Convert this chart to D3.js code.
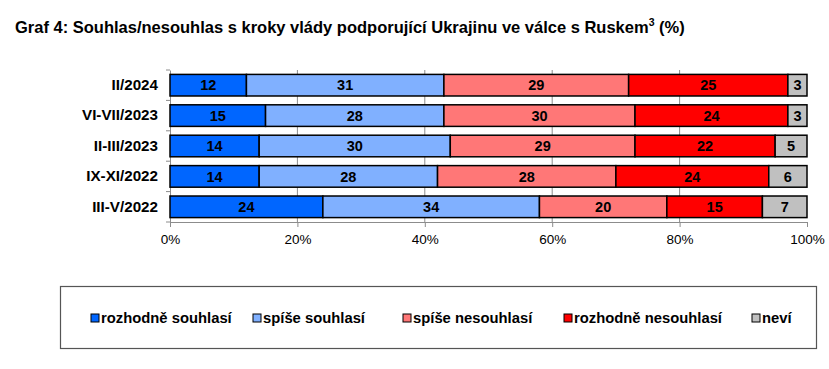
<!DOCTYPE html>
<html>
<head>
<meta charset="utf-8">
<script src="https://cdn.jsdelivr.net/npm/d3@7"></script>
<style>
  body { margin: 0; background: #fff; }
  svg { font-family: "Liberation Sans", Arial, sans-serif; }
</style>
</head>
<body>
<div id="chart"></div>
<script>
// Data
const periods = ["II/2024", "VI-VII/2023", "II-III/2023", "IX-XI/2022", "III-V/2022"];
const seriesNames = ["rozhodně souhlasí", "spíše souhlasí", "spíše nesouhlasí", "rozhodně nesouhlasí", "neví"];
const strongAgree = [12, 15, 14, 14, 24];
const ratherAgree = [31, 28, 30, 28, 34];
const ratherDisagree = [29, 30, 29, 28, 20];
const strongDisagree = [25, 24, 22, 24, 15];
const dontKnow = [3, 3, 5, 6, 7];
const xTicks = [0, 20, 40, 60, 80, 100];

const colors = ["#0066ff", "#80b0ff", "#ff7777", "#ff0000", "#c0c0c0"];

const width = 829;
const height = 369;
const margin = {left: 170, right: 22, top: 70, bottom: 147};

const svg = d3.select("#chart")
  .append("svg")
  .attr("width", width)
  .attr("height", height);

// title
const title = svg.append("text")
  .attr("x", 15)
  .attr("y", 33)
  .attr("font-size", "16.5px")
  .attr("font-weight", "bold")
  .attr("fill", "#000");
title.append("tspan").text("Graf 4: Souhlas/nesouhlas s kroky vlády podporující Ukrajinu ve válce s Ruskem");
title.append("tspan").attr("font-size", "10.5px").attr("dy", -7).text("3");
title.append("tspan").attr("dy", 7).text(" (%)");

// stack the series
const rows = periods.map((p, i) => ({
  period: p,
  values: [strongAgree[i], ratherAgree[i], ratherDisagree[i], strongDisagree[i], dontKnow[i]]
}));
const keys = d3.range(seriesNames.length);
const stacked = d3.stack()
  .keys(keys)
  .value((d, k) => d.values[k])(rows);

// scales
const xScale = d3.scaleLinear()
  .domain([0, 100])
  .range([margin.left, width - margin.right]);

const yScale = d3.scaleBand()
  .domain(periods)
  .range([margin.top, height - margin.bottom])
  .paddingInner(0.29)
  .paddingOuter(0.145);

const plotTop = margin.top;
const plotBottom = height - margin.bottom;

// gridlines
svg.append("g")
  .selectAll("line")
  .data(xTicks.filter(t => t > 0 && t < 100))
  .join("line")
  .attr("x1", d => xScale(d))
  .attr("x2", d => xScale(d))
  .attr("y1", plotTop)
  .attr("y2", plotBottom)
  .attr("stroke", "#8c8c8c")
  .attr("stroke-width", 1);

// x axis
const xAxis = svg.append("g")
  .attr("transform", `translate(0,${plotBottom})`)
  .call(d3.axisBottom(xScale)
    .tickValues(xTicks)
    .tickFormat(d => d + "%")
    .tickSize(5)
    .tickPadding(7));
xAxis.select(".domain").attr("stroke", "#8c8c8c");
xAxis.selectAll(".tick line").attr("stroke", "#8c8c8c");
xAxis.selectAll("text")
  .attr("font-size", "13.5px")
  .attr("font-family", "Liberation Sans, Arial, sans-serif")
  .attr("fill", "#000");

// y axis
const yAxis = svg.append("g")
  .attr("transform", `translate(${margin.left},0)`)
  .call(d3.axisLeft(yScale).tickSize(0).tickPadding(12));
yAxis.select(".domain").attr("stroke", "#8c8c8c");
yAxis.selectAll("text")
  .attr("font-size", "15.2px")
  .attr("font-weight", "bold")
  .attr("font-family", "Liberation Sans, Arial, sans-serif")
  .attr("fill", "#000");

// small tick marks between categories
svg.append("g")
  .selectAll("line")
  .data(d3.range(periods.length + 1))
  .join("line")
  .attr("x1", margin.left - 4)
  .attr("x2", margin.left)
  .attr("y1", i => plotTop + i * (plotBottom - plotTop) / periods.length)
  .attr("y2", i => plotTop + i * (plotBottom - plotTop) / periods.length)
  .attr("stroke", "#8c8c8c");

// bars
const layers = svg.append("g")
  .selectAll("g")
  .data(stacked)
  .join("g")
  .attr("fill", d => colors[d.key]);

layers.selectAll("rect")
  .data(d => d)
  .join("rect")
  .attr("x", d => xScale(d[0]))
  .attr("y", d => yScale(d.data.period))
  .attr("width", d => xScale(d[1]) - xScale(d[0]))
  .attr("height", yScale.bandwidth())
  .attr("stroke", "#000")
  .attr("stroke-width", 1.5);

// value labels
layers.selectAll("text")
  .data(d => d)
  .join("text")
  .attr("x", d => (xScale(d[0]) + xScale(d[1])) / 2)
  .attr("y", d => yScale(d.data.period) + yScale.bandwidth() / 2)
  .attr("dy", "0.36em")
  .attr("text-anchor", "middle")
  .attr("font-size", "14.5px")
  .attr("font-weight", "bold")
  .attr("fill", "#000")
  .text(d => d[1] - d[0]);

// legend
svg.append("rect")
  .attr("x", 60.5)
  .attr("y", 286.5)
  .attr("width", 756)
  .attr("height", 62)
  .attr("fill", "none")
  .attr("stroke", "#555")
  .attr("stroke-width", 1.2);

const legendX = [91, 253, 403, 564, 752];
const legend = svg.append("g")
  .selectAll("g")
  .data(seriesNames)
  .join("g")
  .attr("transform", (d, i) => `translate(${legendX[i]},318)`);

legend.append("rect")
  .attr("x", 0)
  .attr("y", -4)
  .attr("width", 8)
  .attr("height", 8)
  .attr("fill", (d, i) => colors[i])
  .attr("stroke", "#000")
  .attr("stroke-width", 1);

legend.append("text")
  .attr("x", 10)
  .attr("y", 0)
  .attr("dy", "0.36em")
  .attr("font-size", "14.8px")
  .attr("font-weight", "bold")
  .attr("fill", "#000")
  .text(d => d);
</script>
</body>
</html>
